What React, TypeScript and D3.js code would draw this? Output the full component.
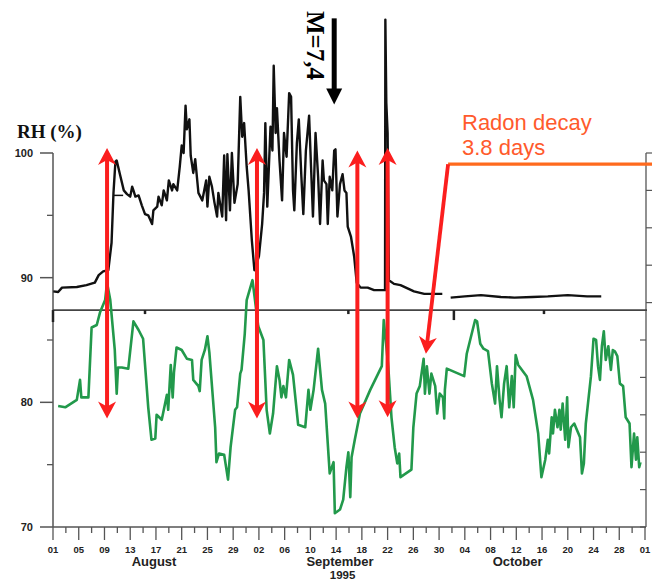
import React from 'react';
import * as d3 from 'd3';

const W = 652;
const H = 583;

// ---------- data ----------
const yMajorTicks = [70, 80, 90, 100];
const yMinorTicks = [75, 85, 95];
const rightTicks = [70, 73, 76, 79, 82, 85, 88, 91, 94, 97, 100];
const dayTickLabels = ['01', '05', '09', '13', '17', '21', '25', '29', '02', '06', '10', '14', '18', '22', '26', '30', '04', '08', '12', '16', '20', '24', '28', '01'];
const monthLabels = [
  { name: 'August', day: 15.7 },
  { name: 'September', day: 44.6 },
  { name: 'October', day: 72.2 },
];
const yearLabel = { name: '1995', day: 45.0 };

// green series (lower curve): [day since Aug 1, value]
const greenSeries: [number, number][] = [
  [0.8, 79.7], [1.9, 79.6], [3.7, 80.2], [4.2, 81.8], [4.4, 80.4], [5.5, 80.4], [6.0, 86.0], [6.8, 86.2], [7.3, 87.2], [8.1, 88.2], [8.4, 89.6], [8.9, 88.2], [9.6, 84.2], [9.9, 80.7], [10.1, 82.8], [10.7, 82.8], [11.7, 82.7], [12.5, 86.5], [13.3, 85.8], [14.0, 85.1], [14.8, 79.6], [15.3, 77.0], [15.9, 77.1], [16.1, 79.0], [16.9, 78.6], [17.7, 80.6], [17.9, 79.4], [18.3, 83.0], [18.6, 80.4], [18.8, 82.4], [19.2, 84.4], [20.0, 84.2], [20.8, 83.5], [21.6, 83.4], [21.8, 81.8], [22.6, 81.3], [22.8, 80.9], [23.1, 83.4], [23.6, 84.2], [24.0, 85.3], [24.3, 84.0], [25.2, 78.0], [25.4, 75.2], [25.8, 75.9], [26.6, 75.8], [26.9, 74.8], [27.2, 73.8], [27.6, 76.4], [28.3, 79.4], [28.6, 79.6], [29.1, 82.3], [29.3, 82.6], [29.8, 85.5], [30.1, 88.2], [31.0, 89.8], [31.9, 86.1], [32.7, 85.0], [33.2, 79.4], [33.7, 77.5], [34.2, 79.1], [34.8, 82.9], [35.2, 81.8], [35.5, 80.4], [35.8, 81.3], [36.2, 80.4], [36.7, 83.4], [37.3, 82.2], [38.1, 78.2], [39.2, 78.0], [39.7, 81.0], [40.0, 79.4], [40.5, 81.0], [41.2, 84.3], [41.8, 81.0], [42.3, 79.9], [43.0, 74.3], [43.6, 75.2], [43.8, 71.1], [44.6, 71.4], [45.1, 72.2], [45.6, 74.8], [45.9, 76.0], [46.2, 72.4], [46.4, 75.6], [46.9, 77.0], [47.7, 79.1], [49.3, 81.0], [51.1, 82.9], [51.4, 86.6], [52.1, 82.9], [52.6, 78.8], [53.1, 76.4], [53.5, 75.1], [53.8, 75.9], [54.0, 74.0], [55.7, 74.6], [56.0, 78.0], [56.5, 80.7], [57.0, 81.3], [57.6, 83.5], [57.8, 80.7], [58.1, 82.9], [58.5, 80.7], [58.8, 82.3], [59.4, 81.3], [59.7, 79.1], [60.1, 80.7], [60.6, 80.4], [60.8, 78.7], [60.9, 81.0], [61.2, 82.7], [63.9, 82.1], [64.3, 83.9], [65.6, 86.6], [65.9, 86.5], [66.4, 84.7], [66.9, 84.3], [67.6, 84.1], [68.2, 81.5], [68.7, 79.9], [69.0, 82.9], [69.4, 80.2], [69.7, 78.8], [70.1, 81.5], [70.5, 82.9], [70.9, 79.6], [71.3, 82.1], [71.6, 79.6], [71.9, 83.8], [72.3, 83.0], [73.6, 82.1], [74.6, 80.2], [75.4, 77.5], [75.9, 74.0], [76.5, 75.4], [76.9, 77.0], [77.1, 75.9], [77.5, 78.8], [77.7, 77.5], [78.0, 79.4], [78.4, 78.0], [78.7, 79.4], [78.9, 77.8], [79.2, 79.9], [79.6, 77.0], [79.9, 80.4], [80.1, 76.4], [80.5, 78.0], [81.0, 78.3], [81.9, 77.2], [82.2, 74.3], [82.5, 75.1], [82.8, 78.3], [83.2, 80.2], [83.6, 82.1], [84.0, 85.1], [84.4, 85.0], [84.7, 82.9], [85.0, 81.8], [85.3, 84.5], [85.6, 85.7], [85.9, 83.4], [86.3, 84.5], [86.7, 82.6], [87.0, 84.2], [87.3, 84.1], [87.7, 83.7], [88.1, 81.5], [88.6, 81.3], [89.0, 78.8], [89.6, 78.3], [89.9, 74.8], [90.3, 77.5], [90.6, 75.4], [90.8, 77.2], [91.1, 74.8], [91.3, 75.2],
];

// black series (upper curve); null marks a gap
const blackSeries: ([number, number] | null)[] = [
  [0.05, 88.9], [0.8, 88.85], [1.4, 89.2], [3.7, 89.25], [5.2, 89.4], [6.5, 89.6], [7.1, 90.2], [7.8, 90.5], [8.6, 90.6], [9.1, 92.8], [9.4, 96.8], [9.7, 99.3], [9.9, 99.4], [10.4, 98.3], [11.0, 97.0], [11.5, 96.7], [12.0, 96.5], [12.3, 97.3], [12.5, 97.0], [12.8, 96.5], [13.3, 96.6], [13.8, 95.8], [14.3, 95.1], [14.8, 95.0], [15.4, 94.3], [15.6, 95.4], [16.2, 95.7], [16.4, 96.5], [16.9, 95.8], [17.2, 97.0], [17.7, 96.2], [18.0, 97.8], [18.5, 97.0], [18.7, 97.5], [19.3, 97.0], [19.7, 98.9], [20.0, 100.6], [20.3, 100.0], [20.6, 103.8], [20.8, 101.9], [21.2, 102.7], [21.4, 99.8], [21.8, 98.4], [22.1, 99.5], [22.6, 96.8], [23.2, 96.2], [23.5, 97.0], [23.8, 97.8], [24.0, 95.7], [24.3, 98.1], [24.7, 97.3], [25.1, 96.0], [25.5, 94.9], [25.7, 96.8], [26.3, 94.9], [26.6, 99.8], [26.9, 94.6], [27.1, 99.9], [27.5, 95.4], [27.8, 100.0], [28.2, 96.0], [28.7, 97.5], [29.1, 104.5], [29.4, 101.3], [29.7, 102.4], [30.1, 98.9], [30.4, 97.0], [30.9, 93.0], [31.3, 90.6], [32.0, 91.7], [32.5, 94.3], [32.8, 96.8], [33.0, 102.4], [33.3, 95.7], [33.8, 102.1], [34.1, 100.2], [34.3, 107.0], [34.6, 101.6], [34.8, 103.6], [35.2, 99.4], [35.6, 96.2], [35.9, 101.6], [36.3, 99.7], [36.7, 104.8], [37.0, 104.5], [37.3, 97.0], [37.5, 95.4], [37.9, 100.8], [38.2, 102.7], [38.6, 98.1], [38.9, 95.1], [39.3, 100.2], [39.8, 103.0], [40.1, 98.9], [40.4, 94.9], [40.8, 101.6], [41.2, 98.1], [41.5, 94.3], [41.9, 99.4], [42.1, 97.8], [42.5, 97.5], [42.7, 94.3], [43.0, 98.1], [43.4, 97.0], [43.7, 100.2], [43.9, 100.3], [44.2, 94.9], [44.6, 97.5], [45.0, 98.3], [45.3, 97.0], [45.6, 96.8], [45.8, 94.1], [46.3, 93.3], [46.8, 91.7], [47.2, 89.6], [47.8, 89.2], [48.9, 89.2], [49.9, 89.0], [50.9, 89.0], [51.6, 89.0], [51.65, 110.7], [51.8, 104.0], [52.0, 101.6], [52.2, 89.8], [53.0, 89.5], [54.0, 89.4], [56.1, 88.9], [57.7, 88.7], [60.5, 88.7],
  null,
  [61.8, 88.4], [64.0, 88.5], [66.5, 88.6], [69.6, 88.45], [71.7, 88.4], [74.5, 88.45], [76.9, 88.5], [80.0, 88.6], [83.0, 88.5], [85.2, 88.5],
];
const blackStep: [number, number][] = [[9.4, 96.6], [10.9, 96.6]];

// red double arrows (day, top value, bottom value)
const redArrows = [
  { day: 8.4, top: 100.4, bottom: 78.7 },
  { day: 31.7, top: 100.4, bottom: 78.7 },
  { day: 47.3, top: 100.2, bottom: 78.7 },
  { day: 52.0, top: 100.4, bottom: 78.8 },
];
// radon annotation: corner point and arrow tip (day, value)
const radonCorner = { day: 61.4, value: 99.1 };
const radonTip = { day: 57.95, value: 83.9 };
const radonLineEnd = { day: 93.1, value: 99.1 };
// earthquake arrow
const quakeArrow = { day: 43.7, top: 110.8, tip: 103.9 };
// divider marks (day, length)
const dividerMarks = [
  { day: 0, len: 12 },
  { day: 14.3, len: 4 },
  { day: 45.9, len: 4 },
  { day: 62.3, len: 10 },
  { day: 76.3, len: 4 },
];
const dividerValue = 87.4;

// ---------- helpers ----------
function headPath(tx: number, ty: number, dx: number, dy: number, len = 17, hw = 9, notch = 5) {
  const L = Math.hypot(dx, dy);
  const ux = dx / L, uy = dy / L;
  const px = -uy, py = ux;
  const bx = tx - ux * len, by = ty - uy * len;
  const nx = tx - ux * (len - notch), ny = ty - uy * (len - notch);
  return `M${tx},${ty}L${bx + px * hw},${by + py * hw}L${nx},${ny}L${bx - px * hw},${by - py * hw}Z`;
}

export default function App() {
  const x = d3.scaleLinear().domain([0, 92]).range([53, 645]);
  const y = d3.scaleLinear().domain([70, 100]).range([527, 153]);

  const line = d3
    .line<[number, number] | null>()
    .defined((d) => d !== null)
    .x((d) => x((d as [number, number])[0]))
    .y((d) => y((d as [number, number])[1]));

  const greenPath = line(greenSeries) || '';
  const blackPath = line(blackSeries) || '';
  const stepPath = line(blackStep) || '';

  const axisColor = '#555';
  const red = '#fb1e1e';
  const orange = '#ff6a1e';
  const textOrange = '#ff5a2c';
  const sans = '"Liberation Sans", Arial, sans-serif';
  const serif = '"Liberation Serif", "Times New Roman", serif';

  const yDivider = y(dividerValue);
  const xTicks = d3.range(0, 93, 2);

  return (
    <svg width={W} height={H} style={{ position: 'absolute', left: 0, top: 0, background: '#fff' }}>
      <rect width={W} height={H} fill="#fff" />

      {/* left axis */}
      <line x1={x(0)} x2={x(0)} y1={y(100)} y2={y(70)} stroke={axisColor} strokeWidth={1.5} />
      {yMajorTicks.map((v) => (
        <g key={'ym' + v}>
          <line x1={x(0) - 13} x2={x(0)} y1={y(v)} y2={y(v)} stroke={axisColor} strokeWidth={1.5} />
          <text x={33} y={y(v) + 4} textAnchor="end" fontFamily={sans} fontWeight="bold" fontSize={11} fill="#222">
            {v}
          </text>
        </g>
      ))}
      {yMinorTicks.map((v) => (
        <line key={'yn' + v} x1={x(0) - 6} x2={x(0)} y1={y(v)} y2={y(v)} stroke={axisColor} strokeWidth={1.3} />
      ))}

      {/* right axis */}
      <line x1={x(92) + 1} x2={x(92) + 1} y1={y(100)} y2={y(70)} stroke={axisColor} strokeWidth={1.3} />
      {rightTicks.map((v) => (
        <line
          key={'rt' + v}
          x1={v > dividerValue ? x(92) + 1 : x(92) - 5}
          x2={v > dividerValue ? x(92) + 7 : x(92) + 1}
          y1={y(v)}
          y2={y(v)}
          stroke={axisColor}
          strokeWidth={1.2}
        />
      ))}

      {/* divider */}
      <line x1={x(0)} x2={x(92) + 2} y1={yDivider} y2={yDivider} stroke="#444" strokeWidth={1.6} />
      {dividerMarks.map((m, i) => (
        <line key={'dm' + i} x1={x(m.day)} x2={x(m.day)} y1={yDivider} y2={yDivider + m.len} stroke="#222" strokeWidth={2.5} />
      ))}

      {/* bottom axis */}
      <line x1={x(0)} x2={x(92) + 1} y1={y(70)} y2={y(70)} stroke={axisColor} strokeWidth={1.5} />
      {xTicks.map((d) => (
        <line
          key={'xt' + d}
          x1={x(d)}
          x2={x(d)}
          y1={y(70)}
          y2={y(70) + (d % 4 === 0 ? 13 : 6)}
          stroke={axisColor}
          strokeWidth={1.3}
        />
      ))}
      {dayTickLabels.map((t, i) => (
        <text key={'xl' + i} x={x(i * 4)} y={553} textAnchor="middle" fontFamily={sans} fontWeight="bold" fontSize={9.5} fill="#222">
          {t}
        </text>
      ))}
      {monthLabels.map((m) => (
        <text key={m.name} x={x(m.day)} y={566} textAnchor="middle" fontFamily={sans} fontWeight="bold" fontSize={13} fill="#222">
          {m.name}
        </text>
      ))}
      <text x={x(yearLabel.day)} y={579} textAnchor="middle" fontFamily={sans} fontWeight="bold" fontSize={11.5} fill="#222">
        {yearLabel.name}
      </text>

      {/* series */}
      <path d={blackPath} fill="none" stroke="#111" strokeWidth={2.4} strokeLinejoin="round" />
      <path d={stepPath} fill="none" stroke="#111" strokeWidth={1.5} />
      <path d={greenPath} fill="none" stroke="#22994b" strokeWidth={2.6} strokeLinejoin="round" />

      {/* red double arrows */}
      {redArrows.map((a, i) => {
        const ax = x(a.day);
        const yt = y(a.top);
        const yb = y(a.bottom);
        return (
          <g key={'ra' + i}>
            <line x1={ax} x2={ax} y1={yt + 10} y2={yb - 10} stroke={red} strokeWidth={4} />
            <path d={headPath(ax, yt, 0, -1, 17, 9, 5)} fill={red} />
            <path d={headPath(ax, yb, 0, 1, 17, 9, 5)} fill={red} />
          </g>
        );
      })}

      {/* radon annotation */}
      <line x1={x(radonCorner.day)} x2={x(radonLineEnd.day)} y1={y(radonCorner.value)} y2={y(radonLineEnd.value)} stroke={orange} strokeWidth={3.2} />
      {(() => {
        const x0 = x(radonCorner.day), y0 = y(radonCorner.value);
        const x1 = x(radonTip.day), y1 = y(radonTip.value);
        const dx = x1 - x0, dy = y1 - y0;
        const L = Math.hypot(dx, dy);
        return (
          <g>
            <line x1={x0} y1={y0} x2={x1 - (dx / L) * 10} y2={y1 - (dy / L) * 10} stroke={red} strokeWidth={3.8} />
            <path d={headPath(x1, y1, dx, dy, 17, 9, 5)} fill={red} />
          </g>
        );
      })()}
      <text x={462} y={130} fontFamily={sans} fontSize={22} fill={textOrange}>
        Radon decay
      </text>
      <text x={462} y={155} fontFamily={sans} fontSize={22} fill={textOrange}>
        3.8 days
      </text>

      {/* earthquake annotation */}
      <line x1={x(quakeArrow.day)} x2={x(quakeArrow.day)} y1={y(quakeArrow.top)} y2={y(quakeArrow.tip) - 12} stroke="#000" strokeWidth={5} />
      <path d={headPath(x(quakeArrow.day), y(quakeArrow.tip), 0, 1, 16, 8, 0)} fill="#000" />
      <text transform="translate(307,11) rotate(90)" fontFamily={serif} fontWeight="bold" fontSize={25} fill="#000">
        M=7,4
      </text>

      {/* RH label */}
      <text x={17} y={138} fontFamily={serif} fontWeight="bold" fontSize={19} fill="#111">
        RH (%)
      </text>
    </svg>
  );
}
